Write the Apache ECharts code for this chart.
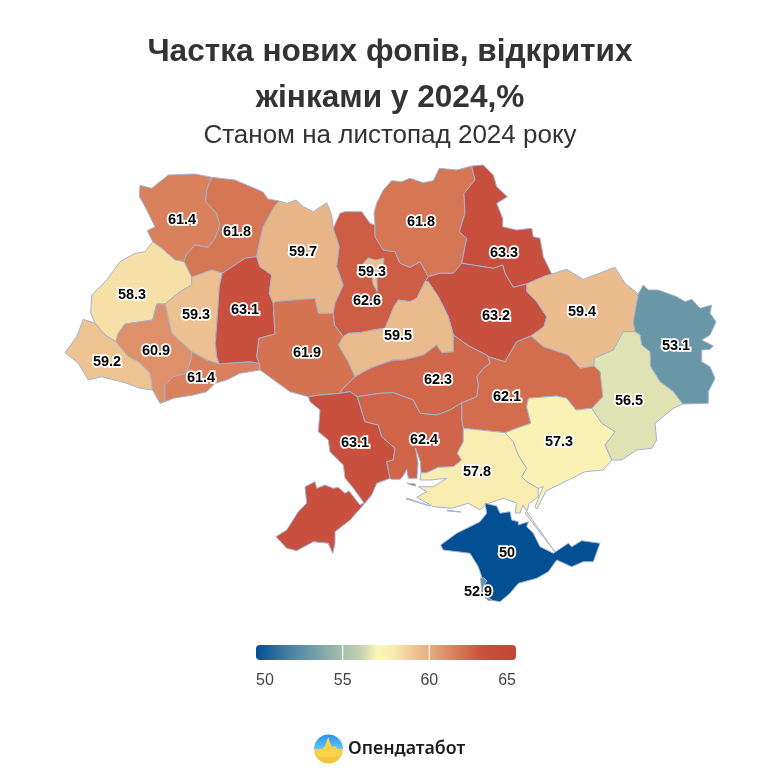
<!DOCTYPE html>
<html>
<head>
<meta charset="utf-8">
<script src="https://cdn.jsdelivr.net/npm/echarts@6/dist/echarts.min.js"></script>
<style>
  html, body { margin: 0; padding: 0; background: #fff; }
  #chart { width: 780px; height: 780px; }
</style>
</head>
<body>
<div id="chart"></div>
<script>
var titleText = 'Частка нових фопів, відкритих\nжінками у 2024,%';
var subtitleText = 'Станом на листопад 2024 року';

var regionNames = ['Волинська', 'Рівненська', 'Львівська', 'Тернопільська', 'Івано-Франківська', 'Закарпатська',
  'Чернівецька', 'Хмельницька', 'Житомирська', 'Вінницька', 'Київська', 'Київ', 'Чернігівська', 'Сумська',
  'Полтавська', 'Харківська', 'Луганська', 'Донецька', 'Дніпропетровська', 'Черкаська', 'Кіровоградська',
  'Одеська', 'Миколаївська', 'Херсонська', 'Запорізька', 'АР Крим', 'Севастополь'];
var regionValues = [61.4, 61.8, 58.3, 59.3, 60.9, 59.2,
  61.4, 63.1, 59.7, 61.9, 62.6, 59.3, 61.8, 63.3,
  63.2, 59.4, 53.1, 56.5, 62.1, 59.5, 62.3,
  63.1, 62.4, 57.8, 57.3, 50, 52.9];

// one colour per unit from 50 to 65
var colorScale = ['#034f93', '#266a9b', '#4a82a3', '#6795a8', '#88abaa', '#a6bfad', '#c3d0b0', '#fbf6b8',
  '#f9eaae', '#efc896', '#e5ad82', '#dd8d67', '#d3704f', '#c9513f', '#c44a3b', '#c1463a'];
var scaleMin = 50;
var scaleMax = 65;
var legendTicks = [50, 55, 60, 65];

// ============================================================
// Map outlines, traced in picture pixels
// ============================================================
var outlines = {
  'Волинська': [[[140,185.3],[151.7,188.3],[168.3,175],[195,174],[211.7,177.3],[206.7,190],[205.7,201.7],[216.7,213.3],[220,225],[215,238.3],[208.3,247.3],[195,245],[186,255],[184,261.7],[175,260],[161.7,248.3],[152.7,241.7],[147.3,230.7],[155,226.7],[143.3,203.3],[139.3,196.7]]],
  'Рівненська': [[[211.7,177.3],[235,180],[263,192],[268,199],[279,201],[273.3,208.3],[263.3,226.7],[260,240],[256.7,256.7],[245,258.3],[230,268.3],[222.3,273.3],[211.7,270],[191.7,277.3],[184,261.7],[186,255],[195,245],[208.3,247.3],[215,238.3],[220,225],[216.7,213.3],[205.7,201.7],[206.7,190]]],
  'Львівська': [[[152.7,241.7],[161.7,248.3],[175,260],[184,261.7],[191.7,277.3],[191.7,285],[180,291.7],[165,304],[156.7,304],[152.7,320],[125,324],[118.3,333.3],[116,341.7],[105,335],[95,323.3],[90.7,313.3],[91.7,295],[106.7,280],[120,261.7],[135,253.3],[145,251.7]]],
  'Тернопільська': [[[191.7,277.3],[211.7,270],[222.3,273.3],[219.3,286.7],[217.3,316.7],[215.3,343.3],[216.7,356.7],[219.3,364],[206.7,360],[191.7,351.7],[171.7,333.3],[165,304],[180,291.7],[191.7,285]]],
  'Івано-Франківська': [[[165,304],[156.7,304],[152.7,320],[125,324],[118.3,333.3],[116,341.7],[128.3,356.7],[138.3,361.7],[150,373.3],[152.7,390],[160,403.3],[165,401.7],[165,385],[173.3,376.7],[186.7,373.3],[191.7,356.7],[191.7,351.7],[171.7,333.3]]],
  'Закарпатська': [[[83.3,319.3],[95,323.3],[105,335],[116,341.7],[128.3,356.7],[138.3,361.7],[150,373.3],[152.7,390],[140,388.3],[126.7,383.3],[101.7,376.7],[88.3,380],[78.3,363.3],[65,352.7],[76.7,336.7]]],
  'Чернівецька': [[[191.7,351.7],[206.7,360],[219.3,364],[226.7,363.3],[250,361.7],[259.3,363.3],[260,370],[240,373.3],[226.7,380],[215,383.3],[206.7,391.7],[193.3,395],[173.3,398.3],[165,401.7],[165,385],[173.3,376.7],[186.7,373.3],[191.7,356.7]]],
  'Хмельницька': [[[256.7,256.7],[245,258.3],[230,268.3],[222.3,273.3],[219.3,286.7],[217.3,316.7],[215.3,343.3],[216.7,356.7],[219.3,364],[226.7,363.3],[250,361.7],[259.3,363.3],[256.7,356.7],[259,338.3],[275,334],[273.3,303.3],[269.3,293.3],[271.7,275],[260,266.7]]],
  'Житомирська': [[[279,201],[286.7,203.3],[296,200],[303.3,206.7],[313.3,211.7],[326.7,202.7],[331.7,215],[333.3,228.3],[339.3,246.7],[336.7,266.7],[343.3,285],[335,303.3],[333.3,313.3],[318.3,313.3],[315,298.3],[293.3,300],[275,301.7],[273.3,303.3],[269.3,293.3],[271.7,275],[260,266.7],[256.7,256.7],[260,240],[263.3,226.7],[273.3,208.3]]],
  'Вінницька': [[[273.3,303.3],[275,301.7],[293.3,300],[315,298.3],[318.3,313.3],[333.3,313.3],[334.5,325],[343.3,336.7],[338.5,345],[348.3,361.7],[355,376.7],[341.7,390],[340,393.3],[320,395],[308.3,396.7],[290,391.7],[260,370],[259.3,363.3],[256.7,356.7],[259,338.3],[275,334]]],
  'Київська': [[[333.3,228.3],[340,213.3],[345,211.7],[361.7,211.7],[370,223.3],[375,225],[375,236.7],[383.3,250],[395,251.7],[400,263.3],[410,267.3],[420,261.7],[428.3,276.7],[425,281.7],[416.7,298.3],[410,301.7],[398.3,300],[394,306.7],[385,328.3],[373.3,330],[360,332.7],[348.3,333.3],[343.3,336.7],[334.5,325],[333.3,313.3],[335,303.3],[343.3,285],[336.7,266.7],[339.3,246.7]]],
  'Київ': [[[363.3,263.3],[368.3,257.7],[375,260],[384,258.3],[383.3,265],[376.7,270],[377.3,291.7],[373.3,285],[371.7,275],[365,268.3]]],
  'Чернігівська': [[[376.7,203.3],[383.3,190],[391.7,180.7],[401.7,181.7],[410,178.3],[423.3,182.7],[433.3,180.7],[439.3,168.3],[456.7,170],[471.7,166],[475,180],[464,193.3],[465,213.3],[459.3,231.7],[466.7,238.3],[461.7,263.3],[453.3,273.3],[440,273.3],[428.3,276.7],[420,261.7],[410,267.3],[400,263.3],[395,251.7],[383.3,250],[375,236.7],[375,225],[374,213]]],
  'Сумська': [[[471.7,166],[483.3,165],[493.3,175],[496.7,186.7],[507.3,196.7],[496.7,203.3],[502.7,218.3],[502.7,226.7],[516.7,230],[531.7,228.3],[533.3,236.7],[540,238.3],[543.3,256.7],[551.7,274],[545,276],[526.7,284],[513.3,287.3],[505,273.3],[502.7,265],[493.3,268.3],[461.7,263.3],[466.7,238.3],[459.3,231.7],[465,213.3],[464,193.3],[475,180]]],
  'Полтавська': [[[428.3,276.7],[440,273.3],[453.3,273.3],[461.7,263.3],[493.3,268.3],[502.7,265],[505,273.3],[513.3,287.3],[526.7,284],[526.7,291],[536.7,301.7],[546.7,316.7],[544,326.7],[531,336],[516.7,341.7],[505,361.7],[488,356.7],[486.7,355],[470,346.7],[453.3,335],[448.3,316.7],[438.3,296.7],[428.3,281.7],[425,281.7]]],
  'Харківська': [[[526.7,284],[545,276],[551.7,274],[566.7,269.3],[583.3,279.3],[615,267.3],[625,283.3],[638.3,294],[633.3,321.7],[635,331.7],[623.3,331.7],[613.3,350],[594.3,358.3],[594,366],[580,368.3],[568.3,355],[543.3,346.7],[531,336],[544,326.7],[546.7,316.7],[536.7,301.7],[526.7,291]]],
  'Луганська': [[[638.3,294],[643.3,285],[648.3,290],[658.3,290],[676.7,296.7],[685,301.7],[691.7,299.3],[700,308.3],[711.7,305],[710,313.3],[716,321.7],[710,335],[701.7,340],[713.3,346],[710,349.3],[701.7,350],[701.7,361.7],[710,366.7],[715,378.3],[708.3,391.7],[708.3,403.3],[682.7,404],[673.3,391.7],[660,381.7],[650.7,366.7],[650,351.7],[641.7,345],[640,335],[635,331.7],[633.3,321.7]]],
  'Донецька': [[[635,331.7],[640,335],[641.7,345],[650,351.7],[650.7,366.7],[660,381.7],[673.3,391.7],[682.7,404],[673.3,408.3],[655,423.3],[656.7,440],[651.7,448.3],[636.7,450],[621.7,460],[611.7,460],[605,445],[615,431.7],[601.7,423.3],[591.7,408.3],[602.7,396.7],[600,371.7],[594,366],[594.3,358.3],[613.3,350],[623.3,331.7]]],
  'Дніпропетровська': [[[505,361.7],[516.7,341.7],[531,336],[543.3,346.7],[568.3,355],[580,368.3],[594,366],[600,371.7],[602.7,396.7],[591.7,408.3],[576,410],[566.7,398.3],[556.7,396],[528.3,398.3],[526.7,406.7],[530.7,423.3],[516.7,428.3],[505,432.7],[480,430],[463.3,428.3],[461.7,420],[461.7,402.7],[476.7,396.7],[478.3,385],[476.7,376.7],[483.3,368.3],[490,363.3],[488,356.7]]],
  'Черкаська': [[[343.3,336.7],[348.3,333.3],[360,332.7],[373.3,330],[385,328.3],[394,306.7],[398.3,300],[410,301.7],[416.7,298.3],[425,281.7],[428.3,281.7],[438.3,296.7],[448.3,316.7],[453.3,335],[453.3,351.7],[441.7,352.7],[436.7,345],[423.3,355],[403.3,360],[393.3,360],[370,368.3],[355,376.7],[348.3,361.7],[338.5,345]]],
  'Кіровоградська': [[[355,376.7],[370,368.3],[393.3,360],[403.3,360],[423.3,355],[436.7,345],[441.7,352.7],[453.3,351.7],[453.3,335],[470,346.7],[486.7,355],[488,356.7],[490,363.3],[483.3,368.3],[476.7,376.7],[478.3,385],[476.7,396.7],[461.7,402.7],[450,410],[436.7,415],[420,413.3],[413.3,400],[393.3,392.7],[380,393.3],[357.3,396.7],[350,391.7],[340,393.3],[341.7,390]]],
  'Одеська': [[[308.3,396.7],[320,395],[340,393.3],[350,391.7],[357.3,396.7],[365,421.7],[378.3,425],[381.7,436.7],[395,448.3],[393.3,460],[386.7,461.7],[390,478.3],[376.7,483.3],[371.7,495],[363.3,505],[350,520],[335,531.7],[335,543],[332.7,553.3],[328.3,543.3],[313.3,541.7],[296.7,550.7],[286.7,548.3],[276,536.7],[286.7,530],[298.3,511.7],[306.7,503.3],[305,486.7],[315,481.7],[316.7,488.3],[325,485],[333.3,488.3],[338.3,487.3],[345,493.3],[349,491],[360,505],[364,503],[354,489],[345,478],[343.3,465],[330,451.7],[328.3,440],[318.3,431.7],[320,410],[310,401.7]]],
  'Миколаївська': [[[357.3,396.7],[380,393.3],[393.3,392.7],[413.3,400],[420,413.3],[436.7,415],[450,410],[461.7,402.7],[461.7,420],[463.3,428.3],[463.3,441.7],[457.3,453.3],[461.7,460],[453.3,466.7],[438.3,467.3],[426.7,472.7],[421,473],[420.5,462],[415.5,448],[414.5,449],[418,463],[417,478.3],[408.3,478.3],[406.7,469.3],[402.7,476.7],[400,479.3],[391.7,479.3],[390,478.3],[386.7,461.7],[393.3,460],[395,448.3],[381.7,436.7],[378.3,425],[365,421.7]]],
  'Херсонська': [[[463.3,428.3],[480,430],[505,432.7],[513.3,441.7],[518.3,455],[526.7,468.3],[521.7,476.7],[526.7,481.7],[538.3,488.3],[538.3,496.7],[529.3,503.3],[526.7,511.7],[523,505],[520,513],[515,513],[516.7,503],[503.3,498.3],[486.7,504],[480,510],[468.3,503.3],[451.7,508.3],[433.3,506.7],[416.7,497.3],[426.7,491.7],[418.3,486.7],[433.3,486.7],[446.7,478.3],[430,480],[420,480],[421,473],[426.7,472.7],[438.3,467.3],[453.3,466.7],[461.7,460],[457.3,453.3],[463.3,441.7]]],
  'Запорізька': [[[505,432.7],[516.7,428.3],[530.7,423.3],[526.7,406.7],[528.3,398.3],[556.7,396],[566.7,398.3],[576,410],[591.7,408.3],[601.7,423.3],[615,431.7],[605,445],[611.7,460],[603.3,470],[585,471.7],[565,481.7],[546,491],[537,509],[535,507],[541,492],[543.3,486.7],[538.3,488.3],[526.7,481.7],[521.7,476.7],[526.7,468.3],[518.3,455],[513.3,441.7]]],
  'АР Крим': [[[485,503.3],[496.7,506],[500,513.3],[510,511.7],[511.7,520],[518.3,521.7],[518.3,525],[528.3,521.7],[526.7,526.7],[533.3,533.3],[540,546.7],[553.3,553.3],[568.3,543.3],[571.7,546.7],[581.7,540.7],[600,543.3],[593.3,561.7],[583.3,561.7],[571.7,566.7],[556.7,560],[548.3,571.7],[536.7,578.3],[518.3,583.3],[510,593.3],[500,601.7],[490,600],[482,590],[481.7,576.7],[478.3,566.7],[470,553.3],[443.3,550],[440.7,545],[456.7,533.3],[480,521.7],[486.7,513.3]]],
  'Севастополь': [[[480.5,578],[484,578],[487,581],[484,585],[484,595],[492,600],[489,601],[482,595],[481,584]]]
};

// spits and small islands that belong to a region
var extraParts = {
  'Миколаївська': [[[407,483],[415,484],[416,486],[411,485]]],
  'Херсонська': [[[526.7,511.7],[555,552],[554,553],[525,513]], [[407,498],[430,506],[430,507],[406,499]], [[447,510],[461,512],[461,513],[447,511]]]
};

// label anchor of each region
var labelPoints = {
  'Волинська': [182,220], 'Рівненська': [237,232], 'Львівська': [132,295], 'Тернопільська': [196,315],
  'Івано-Франківська': [156,351], 'Закарпатська': [107,362], 'Чернівецька': [201,378], 'Хмельницька': [245,310],
  'Житомирська': [303,252], 'Вінницька': [307,353], 'Київська': [367,301], 'Київ': [372,272],
  'Чернігівська': [421,222], 'Сумська': [504,253], 'Полтавська': [496,316], 'Харківська': [582,312],
  'Луганська': [676,346], 'Донецька': [629,401], 'Дніпропетровська': [507,397], 'Черкаська': [398,336],
  'Кіровоградська': [438,380], 'Одеська': [355,443], 'Миколаївська': [424,440], 'Херсонська': [477,472],
  'Запорізька': [559,442], 'АР Крим': [507,553], 'Севастополь': [478,592]
};

var geoJson = {
  type: 'FeatureCollection',
  features: regionNames.map(function(name) {
    var parts = [outlines[name]].concat((extraParts[name] || []).map(function(p) { return [p]; }));
    return {
      type: 'Feature',
      properties: { name: name, cp: labelPoints[name] },
      geometry: { type: 'MultiPolygon', coordinates: parts }
    };
  })
};
echarts.registerMap('ukraine', geoJson);

// ============================================================
// Legend and logo
// ============================================================
var legendX = 256, legendY = 645, legendW = 260, legendH = 15;

function legendPos(v) {
  return legendX + (v - scaleMin) / (scaleMax - scaleMin) * legendW;
}

var legendStops = colorScale.map(function(c, i) {
  return { offset: i / (colorScale.length - 1), color: c };
});

var graphics = [{
  type: 'rect',
  shape: { x: legendX, y: legendY, width: legendW, height: legendH, r: 4 },
  style: { fill: new echarts.graphic.LinearGradient(0, 0, 1, 0, legendStops) }
}];

legendTicks.forEach(function(t, i) {
  if (i > 0 && i < legendTicks.length - 1) {
    graphics.push({
      type: 'rect',
      shape: { x: legendPos(t) - 0.6, y: legendY, width: 1.2, height: legendH },
      style: { fill: '#fff' }
    });
  }
  var align = i === 0 ? 'left' : (i === legendTicks.length - 1 ? 'right' : 'center');
  graphics.push({
    type: 'text',
    x: legendPos(t),
    y: 680.5,
    style: {
      text: String(t), fill: '#444', font: '16px "Liberation Sans", Arial, sans-serif',
      textAlign: align, textVerticalAlign: 'middle'
    }
  });
});

// logo: sky and sun colours with a pulse line through the middle
graphics.push({
  type: 'circle',
  shape: { cx: 328.5, cy: 749, r: 14.5 },
  style: {
    fill: new echarts.graphic.LinearGradient(0, 0, 0, 1, [
      { offset: 0, color: '#2b8ff0' },
      { offset: 0.5, color: '#62c6f2' },
      { offset: 0.5, color: '#f7d24a' },
      { offset: 1, color: '#f5bf2f' }
    ])
  }
});
graphics.push({
  type: 'polygon',
  shape: { points: [[314.5,749],[322,749],[325,746],[327,740],[328.5,737],[330,743],[332,747],[335,746],[338,749],[342.5,749],[340,755],[334,757],[322,757],[317,755]] },
  style: { fill: '#f7d24a' }
});
graphics.push({
  type: 'text',
  x: 348,
  y: 749,
  style: {
    text: 'Опендатабот', fill: '#1c1c1c', font: '600 17.8px "Noto Sans", sans-serif',
    textAlign: 'left', textVerticalAlign: 'middle'
  }
});

// ============================================================
// Chart
// ============================================================
var chart = echarts.init(document.getElementById('chart'), null, { renderer: 'canvas' });
chart.setOption({
  animation: false,
  backgroundColor: '#fff',
  title: [{
    text: titleText,
    left: 390,
    top: 29,
    padding: 0,
    textAlign: 'center',
    textStyle: { fontFamily: '"Liberation Sans", Arial, sans-serif', fontSize: 31.6, fontWeight: 'bold', color: '#333', lineHeight: 46 }
  }, {
    text: subtitleText,
    left: 390,
    top: 123,
    padding: 0,
    textAlign: 'center',
    textStyle: { fontFamily: '"Liberation Sans", Arial, sans-serif', fontSize: 26, fontWeight: 'normal', color: '#333' }
  }],
  visualMap: {
    show: false,
    type: 'continuous',
    min: scaleMin,
    max: scaleMax,
    seriesIndex: 0,
    inRange: { color: colorScale }
  },
  series: [{
    type: 'map',
    map: 'ukraine',
    left: 0,
    top: 0,
    width: 780,
    height: 780,
    boundingCoords: [[0, 0], [780, 780]],
    aspectScale: 1,
    projection: {
      project: function(p) { return [p[0], p[1]]; },
      unproject: function(p) { return [p[0], p[1]]; }
    },
    silent: true,
    selectedMode: false,
    itemStyle: { borderColor: '#a5b2cf', borderWidth: 1 },
    label: {
      show: true,
      formatter: function(p) { return p.value; },
      fontFamily: '"Liberation Sans", Arial, sans-serif',
      fontSize: 14.5,
      fontWeight: 'bold',
      color: '#000',
      textBorderColor: '#fff',
      textBorderWidth: 3.5
    },
    data: regionNames.map(function(name, i) { return { name: name, value: regionValues[i] }; })
  }],
  graphic: graphics
});
</script>
</body>
</html>
